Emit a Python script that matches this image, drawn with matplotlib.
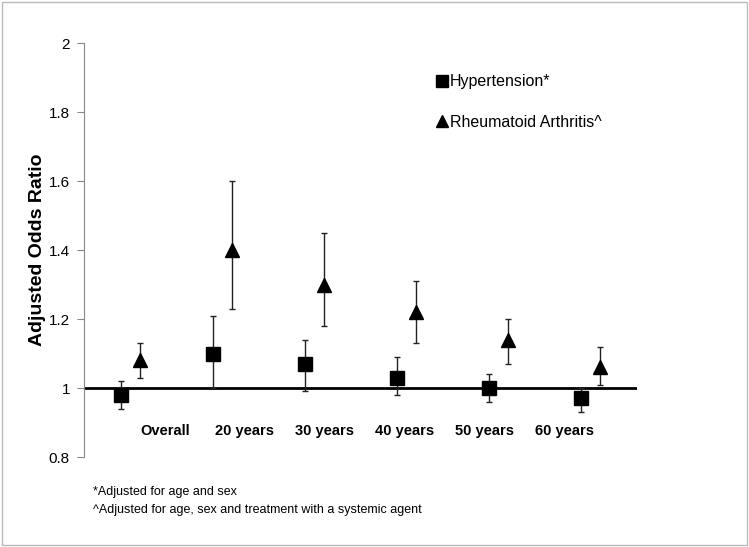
import numpy as np
import matplotlib
matplotlib.use("Agg")
import matplotlib.pyplot as plt
from matplotlib.lines import Line2D

plt.rcParams['font.family'] = ['Liberation Sans', 'DejaVu Sans']

groups = ["Overall", "20 years", "30 years", "40 years", "50 years", "60 years"]

htn_or = [0.98, 1.10, 1.07, 1.03, 1.00, 0.97]
htn_lo = [0.94, 1.00, 0.99, 0.98, 0.96, 0.93]
htn_hi = [1.02, 1.21, 1.14, 1.09, 1.04, 1.00]

ra_or = [1.08, 1.40, 1.30, 1.22, 1.14, 1.06]
ra_lo = [1.03, 1.23, 1.18, 1.13, 1.07, 1.01]
ra_hi = [1.13, 1.60, 1.45, 1.31, 1.20, 1.12]

fig = plt.figure(figsize=(7.49, 5.47), dpi=100)
ax = fig.add_axes([0.112, 0.1645, 0.738, 0.7565])

x = np.arange(len(groups))
x_ra = x + 0.207

htn_or = np.array(htn_or)
ra_or = np.array(ra_or)
htn_err = [htn_or - np.array(htn_lo), np.array(htn_hi) - htn_or]
ra_err = [ra_or - np.array(ra_lo), np.array(ra_hi) - ra_or]

ax.axhline(1.0, color="black", lw=2, zorder=1)

ax.errorbar(x, htn_or, yerr=htn_err, fmt="s", color="black", ms=10.5,
            ecolor="#222222", elinewidth=1, capsize=2.5, capthick=1, zorder=3)
ax.errorbar(x_ra, ra_or, yerr=ra_err, fmt="^", color="black", ms=10.5,
            ecolor="#222222", elinewidth=1, capsize=2.5, capthick=1, zorder=3)

ax.set_xlim(-0.40, 5.61)
ax.set_ylim(0.8, 2.0)
ax.set_yticks([0.8, 1.0, 1.2, 1.4, 1.6, 1.8, 2.0])
ax.set_yticklabels(["0.8", "1", "1.2", "1.4", "1.6", "1.8", "2"])
ax.set_xticks([])

for s in ["top", "right", "bottom"]:
    ax.spines[s].set_visible(False)
ax.spines["left"].set_color("#888888")
ax.tick_params(axis="y", direction="out", length=5, color="#888888",
               labelsize=11, pad=5)

# category labels sit under the reference line, a bit to the right of each pair
for i, g in enumerate(groups):
    ax.text(0.48 + 0.87 * i, 0.875, g, ha="center", va="center",
            fontsize=10.5, fontweight="bold")

ax.set_ylabel("Adjusted Odds Ratio", fontsize=14, fontweight="bold")
ax.yaxis.set_label_coords(-0.068, 0.5)

handles = [Line2D([], [], ls="none", marker="s", color="black", ms=8),
           Line2D([], [], ls="none", marker="^", color="black", ms=8)]
ax.legend(handles, ["Hypertension*", "Rheumatoid Arthritis^"],
          loc="upper left", bbox_to_anchor=(0.61, 0.96), frameon=False,
          fontsize=11.5, handletextpad=0.1, labelspacing=1.6, handlelength=0.8)

fig.text(0.124, 0.101, "*Adjusted for age and sex", fontsize=9, va="center")
fig.text(0.124, 0.068, "^Adjusted for age, sex and treatment with a systemic agent",
         fontsize=9, va="center")

border = plt.Rectangle((0.003, 0.003), 0.994, 0.994, transform=fig.transFigure,
                       fill=False, edgecolor="#bbbbbb", lw=1)
fig.patches.append(border)

fig.savefig("out.png", dpi=100)
